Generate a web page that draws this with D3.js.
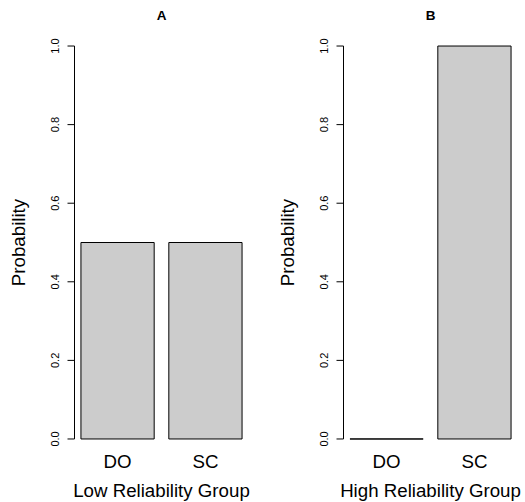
<!DOCTYPE html>
<html>
<head>
<meta charset="utf-8">
<script src="https://cdn.jsdelivr.net/npm/d3@7"></script>
<style>
  body { margin: 0; background: #fff; }
  svg { display: block; font-family: "Liberation Sans", Arial, Helvetica, sans-serif; }
</style>
</head>
<body>
<div id="chart"></div>
<script>
var panelTitles = ["A", "B"]
var groupLabels = ["Low Reliability Group", "High Reliability Group"]
var categories = ["DO", "SC"]
var lowValues = [0.5, 0.5]
var highValues = [0, 1]
var yTicks = [0, 0.2, 0.4, 0.6, 0.8, 1.0]

var width = 525, height = 502

var panels = [
    {title: panelTitles[0], xlab: groupLabels[0], values: lowValues, left: 74.5},
    {title: panelTitles[1], xlab: groupLabels[1], values: highValues, left: 343.5}
]

var plotW = 174,
    plotTop = 30.3, plotBottom = 454.7

var svg = d3.select("#chart")
    .append("svg")
    .attr("width", width)
    .attr("height", height)

// R barplot: width 1, space 0.2, axes extended 4%
var y = d3.scaleLinear().domain([-0.04, 1.04]).range([plotBottom, plotTop])

panels.forEach(function(p) {
    var x = d3.scaleLinear().domain([0.112, 2.488]).range([p.left, p.left + plotW])
    var g = svg.append("g")

    var bars = p.values.map(function(v, i) {
        var l = 0.2 + i * 1.2
        return {cat: categories[i], value: v, l: l, r: l + 1}
    })

    // bars (path so a zero bar still shows as a line)
    g.selectAll(".bar")
        .data(bars)
        .enter().append("path")
        .attr("class", "bar")
        .attr("d", function(d) {
            return "M" + x(d.l) + "," + y(0) + "H" + x(d.r) + "V" + y(d.value) + "H" + x(d.l) + "Z"
        })
        .style("fill", "#cccccc")
        .style("stroke", "#000")
        .style("stroke-width", 1)

    // y axis
    var ax = x(0.112)
    g.append("line")
        .attr("x1", ax).attr("x2", ax)
        .attr("y1", y(0)).attr("y2", y(1))
        .style("stroke", "#000")

    g.selectAll(".tick")
        .data(yTicks)
        .enter().append("line")
        .attr("x1", ax - 7).attr("x2", ax)
        .attr("y1", function(d) { return y(d) })
        .attr("y2", function(d) { return y(d) })
        .style("stroke", "#000")

    g.selectAll(".ticklab")
        .data(yTicks)
        .enter().append("text")
        .attr("transform", function(d) { return "translate(" + (ax - 20) + "," + y(d) + ") rotate(-90)" })
        .attr("text-anchor", "middle")
        .attr("dominant-baseline", "central")
        .style("font-size", "11px")
        .text(function(d) { return d3.format(".1f")(d) })

    g.append("text")
        .attr("transform", "translate(" + (ax - 56) + "," + ((plotTop + plotBottom) / 2) + ") rotate(-90)")
        .attr("text-anchor", "middle")
        .attr("dominant-baseline", "central")
        .style("font-size", "18.7px")
        .text("Probability")

    // category labels
    g.selectAll(".catlab")
        .data(bars)
        .enter().append("text")
        .attr("x", function(d) { return x((d.l + d.r) / 2) })
        .attr("y", 461)
        .attr("text-anchor", "middle")
        .attr("dominant-baseline", "central")
        .style("font-size", "18.7px")
        .text(function(d) { return d.cat })

    g.append("text")
        .attr("x", p.left + plotW / 2)
        .attr("y", 490)
        .attr("text-anchor", "middle")
        .attr("dominant-baseline", "central")
        .style("font-size", "18.7px")
        .text(p.xlab)

    g.append("text")
        .attr("x", p.left + plotW / 2)
        .attr("y", 15)
        .attr("text-anchor", "middle")
        .attr("dominant-baseline", "central")
        .style("font-size", "13.5px")
        .style("font-weight", "bold")
        .text(p.title)
})
</script>
</body>
</html>
